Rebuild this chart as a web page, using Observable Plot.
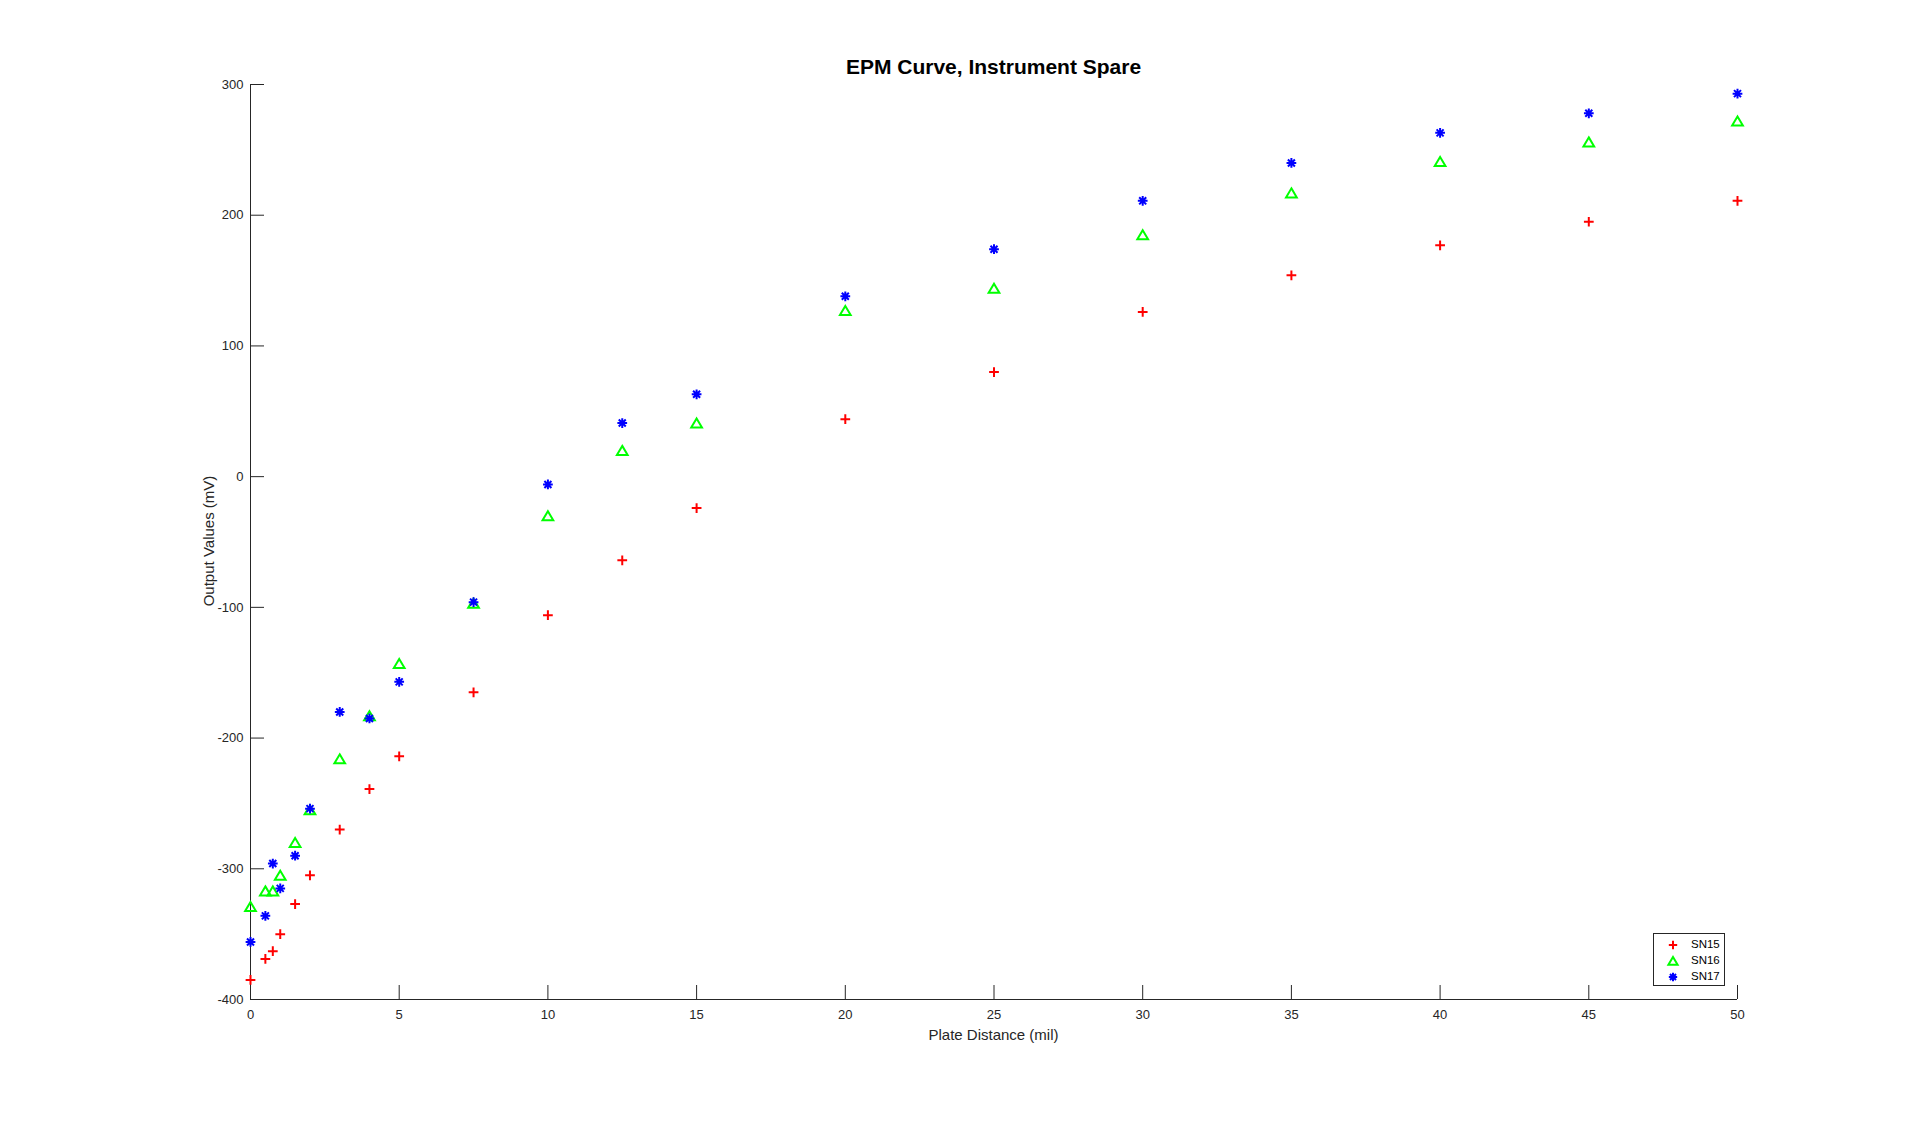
<!DOCTYPE html>
<html>
<head>
<meta charset="utf-8">
<script src="https://cdn.jsdelivr.net/npm/d3@7"></script>
<script src="https://cdn.jsdelivr.net/npm/@observablehq/plot@0.6"></script>
<style>
  html, body { margin: 0; padding: 0; background: #fff; }
  #wrap { position: relative; width: 1920px; height: 1124px; font-family: "Liberation Sans", Arial, Helvetica, sans-serif; color: #262626; }
  .title { position: absolute; left: 0; width: 1987px; top: 55px; text-align: center; font-size: 21px; font-weight: bold; color: #000; }
  .xlabel { position: absolute; left: 0; width: 1987px; top: 1026px; text-align: center; font-size: 15px; }
  .ylabel { position: absolute; left: 208px; top: 541px; font-size: 15px; white-space: nowrap; transform: translate(-50%, -50%) rotate(-90deg); }
  #legend { position: absolute; left: 1653px; top: 933px; width: 72px; height: 53px; border: 1px solid #262626; background: #fff; box-sizing: border-box; }
  #legend .row { position: absolute; left: 0; height: 16px; font-size: 11.5px; color: #000; }
  #legend svg { position: absolute; left: 10px; top: 0; }
  #legend span { position: absolute; left: 37px; top: 1px; }
</style>
</head>
<body>
<div id="wrap">
  <div class="title">EPM Curve, Instrument Spare</div>
  <div class="xlabel">Plate Distance (mil)</div>
  <div class="ylabel">Output Values (mV)</div>
  <div id="chart"></div>
  <div id="legend"></div>
</div>
<script>
// ---- data ----
const distance = [0, 0.5, 0.75, 1, 1.5, 2, 3, 4, 5, 7.5, 10, 12.5, 15, 20, 25, 30, 35, 40, 45, 50];
const sn15 = [-385, -369, -363, -350, -327, -305, -270, -239, -214, -165, -106, -64, -24, 44, 80, 126, 154, 177, 195, 211];
const sn16 = [-329, -317, -317, -305, -280, -255, -216, -183, -143, -97, -30, 20, 41, 127, 144, 185, 217, 241, 256, 272];
const sn17 = [-356, -336, -296, -315, -290, -254, -180, -185, -157, -96, -6, 41, 63, 138, 174, 211, 240, 263, 278, 293];
const seriesNames = ["SN15", "SN16", "SN17"];
const seriesColors = ["#ff0000", "#00ff00", "#0000ff"];
const xTicks = [0, 5, 10, 15, 20, 25, 30, 35, 40, 45, 50];
const yTicks = [-400, -300, -200, -100, 0, 100, 200, 300];
const xDomain = [0, 50];
const yDomain = [-400, 300];

// MATLAB-like marker symbols
const plusSym = { draw(ctx, size) { const h = Math.sqrt(size) / 2; ctx.moveTo(-h, 0); ctx.lineTo(h, 0); ctx.moveTo(0, -h); ctx.lineTo(0, h); } };
const triSym = { draw(ctx, size) { const h = Math.sqrt(size) / 2; ctx.moveTo(0, -h * 0.95); ctx.lineTo(h * 1.1, h * 0.9); ctx.lineTo(-h * 1.1, h * 0.9); ctx.closePath(); } };
const starSym = { draw(ctx, size) { const h = Math.sqrt(size) / 2; const d = h * 0.72; ctx.moveTo(-h, 0); ctx.lineTo(h, 0); ctx.moveTo(0, -h); ctx.lineTo(0, h); ctx.moveTo(-d, -d); ctx.lineTo(d, d); ctx.moveTo(-d, d); ctx.lineTo(d, -d); } };
const symbols = [plusSym, triSym, starSym];

const seriesValues = [sn15, sn16, sn17];
const tables = seriesValues.map((vals, i) => distance.map((x, j) => ({ x, y: vals[j], series: seriesNames[i] })));

const axisColor = "#262626";
const chart = Plot.plot({
  width: 1920,
  height: 1124,
  marginLeft: 250,
  marginRight: 183,
  marginTop: 84,
  marginBottom: 125,
  style: { fontFamily: '"Liberation Sans", Arial, Helvetica, sans-serif', fontSize: "13px", color: axisColor, background: "#fff" },
  x: { domain: xDomain, label: null },
  y: { domain: yDomain, label: null },
  marks: [
    Plot.ruleX([xDomain[0]], { stroke: axisColor, strokeWidth: 1 }),
    Plot.ruleY([yDomain[0]], { stroke: axisColor, strokeWidth: 1 }),
    Plot.axisX({ ticks: xTicks, tickSize: -14, text: null, stroke: axisColor, label: null }),
    Plot.axisX({ ticks: xTicks, tickSize: 0, tickPadding: 10, tickFormat: d => String(d), fill: axisColor, label: null }),
    Plot.axisY({ ticks: yTicks, tickSize: -14, text: null, stroke: axisColor, label: null }),
    Plot.axisY({ ticks: yTicks, tickSize: 0, tickPadding: 7, tickFormat: d => String(d), fill: axisColor, label: null }),
    ...tables.map((t, i) => Plot.dot(t, { x: "x", y: "y", symbol: symbols[i], r: 5.5, stroke: seriesColors[i], fill: "none", strokeWidth: 2 }))
  ]
});
document.getElementById("chart").appendChild(chart);

// legend
const legend = d3.select("#legend");
seriesNames.forEach((name, i) => {
  const row = legend.append("div").attr("class", "row").style("top", (3 + i * 16) + "px").style("width", "100%");
  const svg = row.append("svg").attr("width", 18).attr("height", 16);
  svg.append("path")
    .attr("d", d3.symbol(symbols[i], 70)())
    .attr("transform", "translate(9,8)")
    .attr("fill", "none")
    .attr("stroke", seriesColors[i])
    .attr("stroke-width", 2);
  row.append("span").text(name);
});
</script>
</body>
</html>
